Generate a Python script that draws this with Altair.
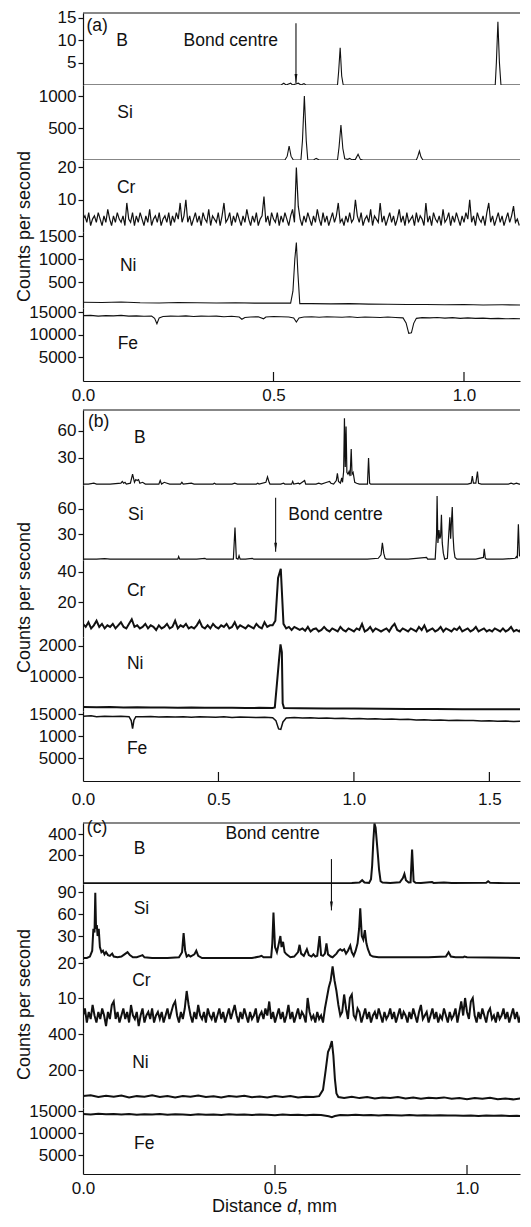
import altair as alt
import pandas as pd

FONT = "Liberation Sans"
INK = "#111111"
PLOT_W = 437

# ------------------------------------------------------------------ panel (a)
A_XMAX = 1.147
A_XTICKS = [0.0, 0.5, 1.0]
B_A = [(0, 0), (0.52, 0), (0.527, 0.4), (0.533, 0), (0.545, 0.4), (0.55, 0), (0.565, 0.4),
       (0.572, 0), (0.58, 0.3), (0.585, 0), (0.668, 0), (0.671, 3), (0.675, 8.3), (0.679, 2),
       (0.683, 0), (1.082, 0), (1.085, 5), (1.089, 14.1), (1.093, 5), (1.097, 0), (1.168, 0)]
SI_A = [(0, 0), (0.53, 0), (0.536, 60), (0.541, 219), (0.546, 60), (0.552, 0), (0.572, 0),
        (0.576, 300), (0.581, 1000), (0.586, 300), (0.59, 0), (0.605, 0), (0.612, 25), (0.62, 0),
        (0.668, 0), (0.672, 200), (0.677, 547), (0.682, 180), (0.687, 20), (0.695, 10), (0.70, 25),
        (0.705, 5), (0.715, 10), (0.722, 90), (0.728, 10), (0.735, 0), (0.875, 0), (0.879, 60),
        (0.883, 140), (0.887, 50), (0.892, 0), (1.168, 0)]
CR_A_STEP = 0.005
CR_A = [4, 5, 3, 6, 2, 4, 5, 3, 6, 4, 2, 5, 3, 7, 4, 2, 5, 3, 6, 4,
        3, 5, 2, 9, 4, 3, 6, 2, 5, 3, 6, 4, 2, 5, 3, 7, 2, 4, 5, 3,
        6, 2, 4, 5, 3, 6, 2, 5, 3, 6, 4, 9, 3, 5, 10, 3, 5, 2, 4, 6,
        3, 5, 2, 6, 4, 3, 7, 2, 5, 4, 3, 6, 2, 5, 9, 3, 4, 6, 2, 5,
        3, 6, 4, 2, 5, 3, 7, 4, 2, 5, 3, 6, 2, 4, 5, 11, 3, 5, 2, 6,
        4, 3, 6, 2, 5, 3, 6, 4, 2, 5, 7, 3, 20, 8, 4, 2, 5, 3, 6, 4,
        2, 5, 3, 7, 4, 2, 6, 3, 5, 2, 4, 6, 3, 5, 9, 3, 4, 2, 5, 3,
        6, 3, 4, 10, 5, 3, 6, 2, 4, 5, 3, 7, 2, 5, 4, 3, 9, 3, 5, 2,
        4, 6, 3, 5, 2, 4, 7, 3, 5, 2, 6, 3, 4, 5, 2, 6, 3, 5, 4, 2,
        9, 3, 5, 2, 6, 4, 3, 5, 2, 7, 3, 4, 6, 2, 5, 3, 6, 4, 2, 5,
        3, 6, 4, 10, 3, 5, 2, 6, 4, 3, 5, 2, 6, 9, 3, 5, 2, 4, 6, 3,
        5, 2, 4, 6, 3, 5, 8, 3, 4, 2]
NI_A = [(0, 60), (0.05, 55), (0.1, 65), (0.15, 50), (0.2, 45), (0.25, 55), (0.3, 50), (0.35, 45),
        (0.4, 50), (0.45, 40), (0.5, 45), (0.545, 40), (0.551, 300), (0.556, 1000), (0.560, 1360),
        (0.564, 700), (0.569, 30), (0.6, 30), (0.65, 25), (0.7, 30), (0.75, 20), (0.8, 15),
        (0.85, 10), (0.9, 10), (0.95, 5), (1.0, 10), (1.05, 0), (1.1, 5), (1.168, 0)]
FE_A = [(0, 14200), (0.02, 14250), (0.04, 14100), (0.06, 14200), (0.08, 14150), (0.10, 14250),
        (0.12, 14100), (0.14, 14150), (0.16, 14050), (0.18, 14100), (0.188, 13600), (0.194, 12400),
        (0.20, 13700), (0.21, 14000), (0.23, 14100), (0.25, 14050), (0.27, 14150), (0.29, 14000),
        (0.31, 14100), (0.33, 14050), (0.35, 14100), (0.37, 13950), (0.39, 14050), (0.41, 13900),
        (0.417, 13400), (0.425, 13800), (0.44, 13900), (0.46, 13950), (0.474, 13500), (0.48, 13900),
        (0.50, 14000), (0.52, 13950), (0.54, 13900), (0.553, 13700), (0.56, 12800), (0.567, 13700),
        (0.58, 13900), (0.60, 13950), (0.62, 13850), (0.64, 13950), (0.66, 13900), (0.68, 13850),
        (0.70, 13950), (0.72, 13800), (0.74, 13900), (0.76, 13850), (0.78, 13800), (0.80, 13900),
        (0.82, 13800), (0.84, 13700), (0.848, 12600), (0.855, 10300), (0.862, 10400), (0.868, 12500),
        (0.875, 13600), (0.89, 13750), (0.91, 13700), (0.93, 13800), (0.95, 13650), (0.97, 13750),
        (0.99, 13600), (1.01, 13700), (1.03, 13600), (1.05, 13650), (1.07, 13550), (1.09, 13600),
        (1.11, 13500), (1.13, 13550), (1.15, 13500), (1.168, 13450)]

# ------------------------------------------------------------------ panel (b)
B_XMAX = 1.613
B_XTICKS = [0.0, 0.5, 1.0, 1.5]
B_B = [(0, 1), (0.02, 1), (0.04, 2), (0.05, 1), (0.10, 1), (0.14, 2), (0.145, 4), (0.15, 2),
       (0.155, 3), (0.16, 1), (0.175, 2), (0.183, 12), (0.19, 3), (0.195, 6), (0.20, 5), (0.205, 6),
       (0.21, 2), (0.22, 3), (0.23, 1), (0.28, 1), (0.285, 5), (0.29, 1), (0.30, 3), (0.31, 2),
       (0.32, 1), (0.36, 1), (0.365, 3), (0.37, 1), (0.40, 2), (0.41, 1), (0.48, 1), (0.485, 2),
       (0.49, 1), (0.55, 1), (0.56, 2), (0.57, 1), (0.64, 1), (0.645, 2), (0.65, 1), (0.675, 3),
       (0.681, 9), (0.687, 3), (0.69, 1), (0.73, 1), (0.74, 2), (0.745, 1), (0.77, 1), (0.774, 4),
       (0.778, 1), (0.795, 2), (0.80, 1), (0.818, 5), (0.822, 1), (0.86, 1), (0.87, 2), (0.88, 1),
       (0.90, 3), (0.91, 4), (0.915, 2), (0.925, 1), (0.935, 5), (0.939, 13), (0.943, 4), (0.95, 2),
       (0.955, 8), (0.958, 3), (0.962, 15), (0.965, 74), (0.968, 20), (0.971, 65), (0.974, 14),
       (0.978, 12), (0.982, 15), (0.986, 10), (0.99, 40), (0.993, 12), (0.997, 14), (1.003, 3),
       (1.01, 2), (1.02, 1), (1.05, 1), (1.054, 30), (1.058, 2), (1.062, 1), (1.10, 1), (1.20, 1),
       (1.30, 1), (1.42, 1), (1.433, 2), (1.437, 10), (1.441, 2), (1.45, 2), (1.456, 15), (1.46, 2),
       (1.47, 1), (1.57, 1), (1.58, 2), (1.59, 1), (1.60, 2), (1.61, 1), (1.642, 1)]
SI_B = [(0, 1), (0.05, 1), (0.08, 1.5), (0.1, 1), (0.2, 1), (0.3, 1), (0.35, 1), (0.353, 4),
        (0.357, 1), (0.42, 1), (0.45, 2), (0.455, 1), (0.54, 1), (0.555, 1), (0.561, 38), (0.566, 2),
        (0.572, 1), (0.576, 5), (0.58, 1), (0.6, 1), (0.625, 2), (0.63, 1), (0.70, 1), (0.80, 1),
        (0.90, 1), (1.00, 1), (1.05, 1), (1.09, 2), (1.10, 6), (1.105, 20), (1.11, 8), (1.115, 2),
        (1.12, 1), (1.20, 1), (1.268, 3), (1.272, 1), (1.30, 1), (1.305, 30), (1.307, 75), (1.31, 20),
        (1.314, 35), (1.317, 25), (1.32, 28), (1.323, 53), (1.326, 20), (1.33, 8), (1.335, 1),
        (1.345, 2), (1.35, 30), (1.354, 50), (1.357, 25), (1.36, 45), (1.363, 62), (1.366, 28),
        (1.369, 12), (1.373, 3), (1.38, 1), (1.45, 1), (1.478, 3), (1.481, 13), (1.485, 2), (1.49, 1),
        (1.55, 1), (1.595, 2), (1.6, 4), (1.603, 2), (1.607, 42), (1.611, 5), (1.63, 2), (1.642, 2)]
CR_B_STEP = 0.01
CR_B = [6, 4, 7, 3, 5, 8, 4, 6, 3, 5,
        4, 6, 3, 5, 7, 4, 3, 6, 9, 4,
        5, 3, 4, 6, 3, 5, 4, 2, 5, 3,
        4, 6, 3, 4, 8, 3, 5, 4, 6, 3,
        4, 3, 5, 8, 4, 3, 5, 3, 6, 4,
        3, 5, 4, 6, 3, 4, 7, 3, 5, 4,
        3, 5, 4, 3, 6, 4, 3, 7, 4, 5,
        5, 8, 36, 42, 6, 3, 4, 2, 4, 3,
        2, 3, 1.5, 4, 1, 2.5, 3, 1, 2, 4,
        2, 1, 3, 2, 1, 4, 2, 1, 3, 2,
        1, 3, 2, 6, 1, 2, 4, 1, 3, 2,
        1, 2, 3, 1, 4, 6, 2, 1, 3, 2,
        1, 3, 2, 1, 4, 2, 5, 1, 2, 3,
        1, 2, 4, 1, 3, 2, 1, 3, 2, 4,
        1, 2, 3, 1, 2, 4, 1, 2, 3, 1,
        2, 1, 3, 2, 1, 3, 1, 2, 4, 1,
        2, 1, 3, 1, 2]
NI_B = [(0, 300), (0.05, 250), (0.1, 300), (0.15, 200), (0.2, 250), (0.25, 150), (0.3, 200),
        (0.35, 100), (0.4, 150), (0.45, 100), (0.5, 50), (0.55, 100), (0.6, 0), (0.65, 50), (0.7, 0),
        (0.708, 200), (0.716, 8000), (0.724, 16000), (0.729, 20500), (0.734, 18000), (0.737, 1500),
        (0.742, 0), (0.8, -100), (0.9, -150), (1.0, -200), (1.1, -250), (1.2, -300), (1.3, -350),
        (1.4, -400), (1.5, -400), (1.642, -450)]
FE_B = [(0, 14500), (0.03, 14600), (0.05, 14400), (0.08, 14500), (0.11, 14450), (0.14, 14500),
        (0.17, 14400), (0.178, 13500), (0.183, 11700), (0.188, 13600), (0.195, 14400), (0.22, 14350),
        (0.25, 14450), (0.28, 14300), (0.31, 14400), (0.34, 14300), (0.37, 14350), (0.40, 14250),
        (0.43, 14350), (0.46, 14300), (0.49, 14250), (0.52, 14350), (0.55, 14200), (0.58, 14300),
        (0.61, 14250), (0.64, 14200), (0.67, 14250), (0.70, 14150), (0.712, 13500), (0.722, 11600),
        (0.73, 11500), (0.738, 13200), (0.75, 14100), (0.78, 14200), (0.81, 14100), (0.84, 14150),
        (0.87, 14050), (0.90, 14100), (0.93, 14000), (0.96, 14050), (0.99, 13900), (1.02, 14000),
        (1.05, 13850), (1.08, 13900), (1.11, 13800), (1.14, 13850), (1.17, 13750), (1.20, 13800),
        (1.23, 13650), (1.26, 13700), (1.29, 13600), (1.32, 13650), (1.35, 13550), (1.38, 13600),
        (1.41, 13500), (1.44, 13550), (1.47, 13400), (1.50, 13450), (1.53, 13350), (1.56, 13400),
        (1.59, 13300), (1.62, 13350), (1.642, 13250)]

# ------------------------------------------------------------------ panel (c)
C_XMAX = 1.138
C_XTICKS = [0.0, 0.5, 1.0]
B_C = [(0, -68), (0.2, -68), (0.4, -68), (0.6, -68), (0.70, -66), (0.72, -62), (0.727, -40),
       (0.733, -62), (0.745, -65), (0.750, -30), (0.753, 100), (0.756, 330), (0.759, 500),
       (0.762, 460), (0.765, 330), (0.768, 200), (0.771, 60), (0.775, -50), (0.78, -62), (0.80, -66),
       (0.825, -60), (0.833, -20), (0.837, 20), (0.841, -40), (0.848, -62), (0.853, -60),
       (0.857, 253), (0.861, -50), (0.866, -65), (0.88, -66), (0.909, -58), (0.913, -66),
       (0.94, -62), (0.96, -66), (1.05, -64), (1.055, -50), (1.06, -64), (1.10, -68), (1.159, -68)]
SI_C = [(0, 0), (0.01, 0), (0.018, 2), (0.024, 10), (0.027, 40), (0.03, 35), (0.032, 89),
        (0.034, 40), (0.036, 45), (0.038, 30), (0.041, 40), (0.044, 15), (0.048, 8), (0.052, 10),
        (0.056, 5), (0.06, 8), (0.065, 4), (0.07, 3), (0.076, 6), (0.08, 2), (0.09, 1), (0.10, 2),
        (0.108, 5), (0.116, 8), (0.122, 4), (0.13, 1), (0.14, 1), (0.15, 3), (0.155, 4), (0.16, 1),
        (0.18, 0), (0.22, 0), (0.25, 1), (0.258, 8), (0.262, 34), (0.266, 10), (0.27, 2), (0.275, 4),
        (0.28, 2), (0.29, 5), (0.295, 10), (0.30, 3), (0.31, 0), (0.40, 0), (0.44, 0), (0.46, 2),
        (0.465, 3), (0.47, 1), (0.49, 1), (0.493, 20), (0.496, 62), (0.5, 15), (0.505, 8), (0.51, 20),
        (0.514, 30), (0.517, 15), (0.521, 22), (0.525, 8), (0.53, 5), (0.535, 3), (0.54, 1),
        (0.55, 2), (0.56, 8), (0.564, 18), (0.568, 6), (0.575, 3), (0.583, 12), (0.588, 4),
        (0.595, 2), (0.60, 5), (0.605, 2), (0.61, 3), (0.616, 30), (0.62, 4), (0.625, 3), (0.63, 6),
        (0.634, 20), (0.638, 5), (0.645, 2), (0.65, 1), (0.66, 6), (0.665, 10), (0.67, 12),
        (0.675, 10), (0.68, 12), (0.685, 6), (0.69, 10), (0.696, 17), (0.70, 8), (0.705, 3),
        (0.71, 10), (0.715, 20), (0.719, 40), (0.722, 68), (0.726, 30), (0.73, 25), (0.734, 38),
        (0.738, 20), (0.742, 12), (0.748, 4), (0.755, 2), (0.77, 1), (0.80, 1), (0.85, 1), (0.90, 1),
        (0.945, 2), (0.952, 8), (0.958, 2), (0.97, 1), (0.99, 1), (0.993, 2), (1.0, 1), (1.159, 0)]
CR_C_STEP = 0.005
CR_C = [5, 7, 3, 6, 4, 8, 5, 3, 6, 4, 7, 5, 2, 6, 4, 8, 9, 4, 6, 3,
        5, 7, 4, 6, 3, 8, 5, 4, 6, 2, 5, 7, 3, 5, 6, 4, 7, 3, 5, 6,
        4, 6, 3, 5, 7, 4, 6, 8, 9, 5, 3, 6, 4, 7, 12, 8, 5, 3, 6, 4,
        8, 5, 4, 6, 3, 7, 5, 4, 6, 3, 5, 7, 4, 6, 3, 5, 7, 4, 6, 8,
        5, 3, 6, 4, 7, 5, 3, 6, 4, 5, 7, 3, 5, 6, 4, 7, 5, 9, 4, 6,
        3, 5, 7, 4, 6, 3, 5, 8, 4, 6, 3, 5, 7, 4, 6, 5, 3, 10, 6, 4,
        5, 3, 6, 4, 5, 3, 7, 10, 13, 15, 19, 15, 12, 8, 5, 6, 11, 7, 4, 10,
        11, 5, 4, 7, 6, 3, 5, 7, 4, 6, 3, 5, 6, 4, 7, 5, 3, 6, 4, 5,
        7, 4, 6, 3, 5, 7, 4, 6, 5, 3, 6, 4, 7, 5, 3, 6, 8, 4, 5, 6,
        3, 5, 7, 4, 6, 3, 5, 4, 7, 5, 3, 6, 4, 5, 7, 3, 6, 9, 5, 10,
        6, 4, 9, 10, 5, 3, 6, 4, 7, 5, 3, 6, 7, 4, 5, 3, 6, 4, 5, 7,
        4, 6, 3, 5, 7, 4, 6, 3, 5, 4, 6, 5]
NI_C = [(0, 55), (0.02, 60), (0.04, 50), (0.06, 57), (0.08, 52), (0.10, 58), (0.12, 48), (0.14, 55),
        (0.16, 52), (0.18, 60), (0.20, 50), (0.22, 55), (0.24, 48), (0.26, 56), (0.28, 52), (0.30, 58),
        (0.32, 50), (0.34, 54), (0.36, 47), (0.38, 55), (0.40, 51), (0.42, 57), (0.44, 49), (0.46, 53),
        (0.48, 47), (0.50, 55), (0.52, 50), (0.54, 56), (0.56, 48), (0.58, 52), (0.60, 50),
        (0.615, 55), (0.625, 90), (0.632, 200), (0.638, 300), (0.643, 325), (0.648, 361),
        (0.652, 280), (0.656, 150), (0.660, 70), (0.665, 50), (0.68, 45), (0.70, 52), (0.72, 44),
        (0.74, 50), (0.76, 42), (0.78, 48), (0.80, 45), (0.82, 50), (0.84, 42), (0.86, 47), (0.88, 40),
        (0.90, 46), (0.92, 43), (0.94, 48), (0.96, 40), (0.98, 45), (1.00, 38), (1.02, 44), (1.04, 40),
        (1.06, 46), (1.08, 38), (1.10, 42), (1.12, 37), (1.14, 43), (1.159, 40)]
FE_C = [(0, 14300), (0.02, 14200), (0.04, 14350), (0.06, 14250), (0.08, 14300), (0.10, 14200),
        (0.12, 14300), (0.14, 14150), (0.16, 14250), (0.18, 14200), (0.20, 14300), (0.22, 14150),
        (0.24, 14250), (0.26, 14200), (0.28, 14100), (0.30, 14250), (0.32, 14150), (0.34, 14200),
        (0.36, 14100), (0.38, 14250), (0.40, 14150), (0.42, 14200), (0.44, 14100), (0.46, 14200),
        (0.48, 14150), (0.50, 14050), (0.52, 14200), (0.54, 14100), (0.56, 14150), (0.58, 14050),
        (0.60, 14150), (0.62, 14100), (0.64, 13800), (0.648, 13600), (0.656, 13850), (0.67, 14100),
        (0.69, 14050), (0.71, 14150), (0.73, 14050), (0.75, 14100), (0.77, 14000), (0.79, 14100),
        (0.81, 14050), (0.83, 13950), (0.85, 14100), (0.87, 14000), (0.89, 14050), (0.91, 13950),
        (0.93, 14050), (0.95, 13950), (0.97, 14000), (0.99, 13900), (1.01, 14000), (1.03, 13850),
        (1.05, 13950), (1.07, 13900), (1.09, 13950), (1.11, 13850), (1.13, 13900), (1.159, 13850)]

# ------------------------------------------------------------------ texts
ELEMENTS = ["B", "Si", "Cr", "Ni", "Fe"]
PANEL_TAGS = ["(a)", "(b)", "(c)"]
BOND_TEXT = "Bond centre"
Y_TITLE = "Counts per second"
X_TITLE_PARTS = ["Distance", "d", ", mm"]


def pairs_df(pairs):
    return pd.DataFrame(pairs, columns=["d", "c"])


def grid_df(values, step):
    return pd.DataFrame({"d": [round(i * step, 4) for i in range(len(values))], "c": values})


def label_expr(vals, labs):
    s = ""
    for v, l in zip(vals, labs):
        s += f"datum.value == {v} ? '{l}' : "
    return s + "''"


def make_strip(df, xmax, domain, ticks, tick_labels, height, stroke, name, name_pos,
               tag=None, bond=None, arrow=None, title_y=None, xticks=None, xlabel_pad=None,
               xtitle=False):
    xaxis = None
    if xticks is not None:
        xaxis = alt.Axis(values=xticks, format=".1f", ticks=False, tickSize=0,
                         labelPadding=xlabel_pad, labelFlush=False, labelOverlap=False,
                         title=None, grid=False)
    ykw = dict(values=ticks, labelExpr=label_expr(ticks, tick_labels), tickSize=5,
               labelPadding=2, labelOverlap=False, labelFlush=False, grid=False)
    if title_y is not None:
        ykw.update(title=Y_TITLE, titleFontSize=18, titleFont=FONT, titleFontWeight="normal",
                   titleColor=INK, titleX=-50, titleY=title_y, titleAngle=270,
                   titleBaseline="bottom", titleAlign="center")
    else:
        ykw.update(title=None)
    X = alt.X("d:Q", scale=alt.Scale(domain=[0, xmax], nice=False, zero=False), axis=xaxis)
    Y = alt.Y("c:Q", scale=alt.Scale(domain=domain, nice=False, zero=False), axis=alt.Axis(**ykw))

    layers = [alt.Chart(df).mark_line(color=INK, strokeWidth=stroke, clip=True).encode(x=X, y=Y)]

    texts = [(name, name_pos[0], name_pos[1])]
    if tag is not None:
        texts.append((tag[0], tag[1], tag[2]))
    if bond is not None:
        texts.append((BOND_TEXT, bond[0], bond[1]))
    tdf = pd.DataFrame(texts, columns=["t", "d", "c"])
    layers.append(alt.Chart(tdf).mark_text(align="left", baseline="middle", font=FONT,
                                           fontSize=17.5, color=INK).encode(x=X, y=Y, text="t:N"))
    if arrow is not None:
        adf = pd.DataFrame({"d": [arrow[0]], "c": [arrow[1]], "c2": [arrow[2]]})
        layers.append(alt.Chart(adf).mark_rule(color=INK, strokeWidth=1.1).encode(
            x=X, y=Y, y2="c2:Q"))
        hdf = pd.DataFrame({"d": [arrow[0]], "c": [arrow[2]]})
        layers.append(alt.Chart(hdf).mark_point(shape="M-0.32,-1L0.32,-1L0,1Z", filled=True,
                                                size=81, color=INK, opacity=1, yOffset=-4.5)
                      .encode(x=X, y=Y))
    if tag is not None:
        rdf = pd.DataFrame({"d": [0.0], "c": [domain[1]]})
        layers.append(alt.Chart(rdf).mark_rule(color=INK, strokeWidth=1.2).encode(
            y=Y))
    if xticks is not None:
        kdf = pd.DataFrame({"d": xticks[1:]})
        layers.append(alt.Chart(kdf).mark_rule(color=INK, strokeWidth=1.2).encode(
            x=X, y=alt.value(height), y2=alt.value(height - 9)))
    if xtitle:
        pdf1 = pd.DataFrame({"t": [X_TITLE_PARTS[0]]})
        pdf2 = pd.DataFrame({"t": [X_TITLE_PARTS[1]]})
        pdf3 = pd.DataFrame({"t": [X_TITLE_PARTS[2]]})
        yv = height + 33
        layers.append(alt.Chart(pdf1).mark_text(align="right", baseline="middle", font=FONT,
                                                fontSize=18, color=INK)
                      .encode(x=alt.value(199), y=alt.value(yv), text="t:N"))
        layers.append(alt.Chart(pdf2).mark_text(align="left", baseline="middle", font=FONT,
                                                fontSize=18, fontStyle="italic", color=INK)
                      .encode(x=alt.value(204), y=alt.value(yv), text="t:N"))
        layers.append(alt.Chart(pdf3).mark_text(align="left", baseline="middle", font=FONT,
                                                fontSize=18, color=INK)
                      .encode(x=alt.value(214), y=alt.value(yv), text="t:N"))
    return alt.layer(*layers).properties(width=PLOT_W, height=height)


def spacer(h):
    return alt.Chart(pd.DataFrame({"d": [0]})).mark_point(opacity=0).encode(
        x=alt.X("d:Q", axis=None), y=alt.Y("d:Q", axis=None)).properties(width=PLOT_W, height=h)


strips = [
    # panel (a)
    make_strip(pairs_df(B_A), A_XMAX, [0, 16.07], [5, 10, 15], ["5", "10", "15"], 72, 1.1,
               ELEMENTS[0], (0.087, 9.8), tag=(PANEL_TAGS[0], 0.009, 13.2), bond=(0.264, 9.8),
               arrow=(0.559, 13.8, 0.45)),
    make_strip(pairs_df(SI_A), A_XMAX, [0, 1172], [500, 1000], ["500", "1000"], 75, 1.1,
               ELEMENTS[1], (0.09, 734)),
    make_strip(grid_df(CR_A, CR_A_STEP), A_XMAX, [0, 22.3], [10, 20], ["10", "20"], 72, 1.2,
               ELEMENTS[2], (0.089, 13.6), title_y=66),
    make_strip(pairs_df(NI_A), A_XMAX, [-65, 1587], [500, 1000, 1500], ["500", "1000", "1500"],
               76, 1.1, ELEMENTS[3], (0.097, 848)),
    make_strip(pairs_df(FE_A), A_XMAX, [-221, 15883], [5000, 10000, 15000],
               ["5000", "10000", "15000"], 73, 1.1, ELEMENTS[4], (0.091, 7942),
               xticks=A_XTICKS, xlabel_pad=6),
    spacer(29),
    # panel (b)
    make_strip(pairs_df(B_B), B_XMAX, [0, 83.3], [30, 60], ["30", "60"], 75, 1.2,
               ELEMENTS[0], (0.188, 52), tag=(PANEL_TAGS[1], 0.018, 70)),
    make_strip(pairs_df(SI_B), B_XMAX, [0, 87.9], [30, 60], ["30", "60"], 75, 1.2,
               ELEMENTS[1], (0.166, 52.8), bond=(0.758, 53), arrow=(0.711, 73, 9.7)),
    make_strip(grid_df(CR_B, CR_B_STEP), B_XMAX, [-2.6, 47.7], [20, 40], ["20", "40"], 77, 2.0,
               ELEMENTS[2], (0.162, 27.5), title_y=37),
    make_strip(pairs_df(NI_B), B_XMAX, [-968, 22903], [10000, 20000], ["10000", "2000"], 74, 2.0,
               ELEMENTS[3], (0.162, 14194)),
    make_strip(pairs_df(FE_B), B_XMAX, [-227, 15682], [5000, 10000, 15000],
               ["5000", "1000", "15000"], 70, 1.5, ELEMENTS[4], (0.162, 7045),
               xticks=B_XTICKS, xlabel_pad=10),
    spacer(42),
    # panel (c)
    make_strip(pairs_df(B_C), C_XMAX, [-76, 505], [200, 400], ["200", "400"], 61, 2.0,
               ELEMENTS[0], (0.132, 254), tag=(PANEL_TAGS[2], 0.01, 457), bond=(0.371, 403)),
    make_strip(pairs_df(SI_C), C_XMAX, [-2.7, 101], [30, 60, 90], ["30", "60", "90"], 76, 2.0,
               ELEMENTS[1], (0.132, 67), arrow=(0.647, 135, 65)),
    make_strip(grid_df(CR_C, CR_C_STEP), C_XMAX, [0, 20.86], [10, 20], ["10", "20"], 73, 2.0,
               ELEMENTS[2], (0.128, 14.9), title_y=44),
    make_strip(pairs_df(NI_C), C_XMAX, [-11, 406], [200, 400], ["200", "400"], 75, 2.0,
               ELEMENTS[3], (0.128, 239)),
    make_strip(pairs_df(FE_C), C_XMAX, [682, 15682], [5000, 10000, 15000],
               ["5000", "10000", "15000"], 66, 2.0, ELEMENTS[4], (0.133, 7500),
               xticks=C_XTICKS, xlabel_pad=6, xtitle=True),
]

chart = alt.vconcat(*strips, spacing=0, bounds="flush").properties(
    padding={"left": 7, "top": 0, "right": 0, "bottom": 0}
).configure(font=FONT).configure_view(strokeWidth=0).configure_axis(
    labelFont=FONT, labelFontSize=17, labelColor=INK, domainColor=INK, tickColor=INK,
    domainWidth=1.2, tickWidth=1.2, grid=False
)

chart.save("out.html", embed_options={"renderer": "svg", "actions": False})
